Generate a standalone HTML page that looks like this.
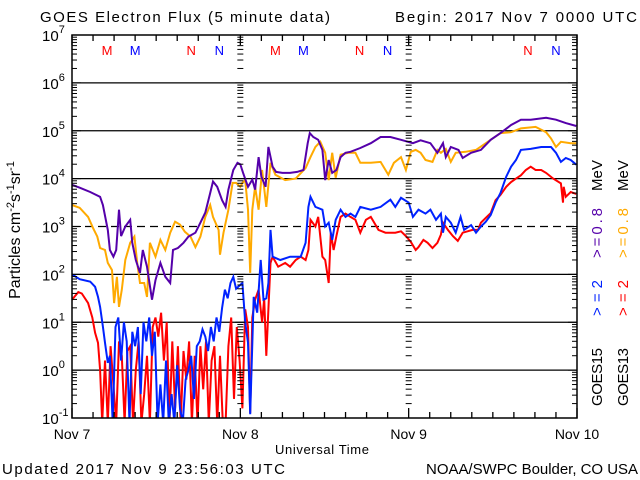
<!DOCTYPE html>
<html><head><meta charset="utf-8"><style>
html,body{margin:0;padding:0;background:#fff;}
svg{display:block;font-family:"Liberation Sans",sans-serif;}
</style></head><body>
<svg id="chart" width="640" height="480" viewBox="0 0 640 480">
<text x="40" y="22" font-size="15" textLength="290">GOES Electron Flux (5 minute data)</text>
<text x="637" y="22" font-size="15" text-anchor="end" textLength="242">Begin: 2017 Nov 7 0000 UTC</text>
<text transform="translate(20,230) rotate(-90)" font-size="16" text-anchor="middle">Particles cm<tspan dy="-6" font-size="11">-2</tspan><tspan dy="6">s</tspan><tspan dy="-6" font-size="11">-1</tspan><tspan dy="6">sr</tspan><tspan dy="-6" font-size="11">-1</tspan></text>
<text x="322" y="454" font-size="13" text-anchor="middle" textLength="94">Universal Time</text>
<text x="2" y="474" font-size="15" textLength="283">Updated 2017 Nov  9 23:56:03 UTC</text>
<text x="638" y="474" font-size="15" text-anchor="end" textLength="212">NOAA/SWPC Boulder, CO USA</text>
<g id="grid"></g>
<g id="series" clip-path="url(#plotclip)"></g>
<g id="axes"></g>
<g id="legend" font-size="15">
<text transform="translate(602,406) rotate(-90)" textLength="58">GOES15</text>
<text transform="translate(602,316) rotate(-90)" fill="#0022ff" textLength="36">&gt;=2</text>
<text transform="translate(602,258) rotate(-90)" fill="#5500aa" textLength="50">&gt;=0.8</text>
<text transform="translate(602,191) rotate(-90)" textLength="31">MeV</text>
<text transform="translate(628,406) rotate(-90)" textLength="58">GOES13</text>
<text transform="translate(628,316) rotate(-90)" fill="#ff0000" textLength="36">&gt;=2</text>
<text transform="translate(628,258) rotate(-90)" fill="#ffaa00" textLength="50">&gt;=0.8</text>
<text transform="translate(628,191) rotate(-90)" textLength="31">MeV</text>
</g>
<defs><clipPath id="plotclip"><rect x="72" y="35" width="505" height="383"/></clipPath></defs>
</svg>
<script>
const dayLabels = ["Nov 7","Nov 8","Nov 9","Nov 10"];
const yTickExponents = [-1,0,1,2,3,4,5,6,7];
const markerLabels = ["M","M","N","N","M","M","N","N","N","N"];
const markerHours = [5,9,17,21,29,33,41,45,65,69];
const markerColors = ["red","blue","red","blue","red","blue","red","blue","red","blue"];

const purpleT = [0,1.1,2.6,4,4.4,5.1,5.4,5.9,6.3,6.7,7,7.6,8.3,8.6,9.1,9.7,10.1,10.7,11.4,11.9,12.6,13.3,14,14.4,15.1,15.9,16.6,17.6,18.3,19,19.7,20.1,20.7,21.4,21.9,22.3,23,23.6,24,24.4,25.1,25.7,26.1,26.6,27,27.6,28,28.6,29.1,30,31.1,32.1,33,33.6,33.9,34.4,35.1,35.7,36.1,36.6,37.1,37.7,38.3,39,39.7,41.1,42.6,44,45.4,46.9,48.6,49.7,51.1,52.1,52.9,53.3,54,55.1,55.7,56.9,58.3,59.7,61.1,62.6,64,65.4,67.6,69,70.4,71.9];
const purpleV = [3.87,3.81,3.72,3.62,3.45,2.93,2.51,2.37,2.51,3.35,2.8,3.0,3.14,2.66,2.3,2.03,2.51,2.16,1.47,1.88,2.24,1.95,1.82,2.51,2.55,2.66,2.79,2.87,3.08,3.29,3.7,3.94,3.83,3.55,3.41,3.77,4.18,4.33,4.3,4.12,3.83,3.98,3.77,4.45,4.04,3.83,4.66,4.25,4.14,4.12,4.12,4.14,4.18,4.74,4.95,4.87,4.81,4.6,3.97,4.39,4.12,4.18,4.45,4.54,4.56,4.64,4.74,4.87,4.87,4.81,4.74,4.8,4.74,4.54,4.74,4.45,4.66,4.6,4.43,4.54,4.6,4.81,4.95,5.12,5.23,5.23,5.27,5.23,5.16,5.1];

const orangeT = [0,1.1,2.3,3,3.6,4,4.7,5.1,5.7,6,6.4,6.7,7.1,7.6,8.3,8.9,9.3,9.7,10.3,10.7,11.1,11.9,12.6,13.3,14,14.7,15.4,16.1,16.9,17.6,18.3,19,19.7,20.1,20.9,21.1,21.6,22.3,22.9,23.4,24,24.3,24.7,25.1,25.4,25.7,26.1,26.6,27.1,27.7,28.3,29,30.4,31.9,33.3,34,34.7,35.4,36.1,36.6,37.1,37.6,38.3,39.4,40.4,41.1,42.6,44,45.1,45.9,46.9,47.6,48.3,49,49.7,50.4,51.4,52.1,52.6,53.3,54,54.7,56.1,57.6,59,61.1,62.6,64,66.1,67.6,68.3,69,69.7,71.1,71.9];
const orangeV = [3.45,3.39,3.2,2.97,2.79,2.55,2.51,2.24,2.09,1.4,1.95,1.32,1.68,2.3,2.66,2.79,2.24,1.82,1.82,1.53,2.66,2.37,2.72,2.51,2.87,3.1,3.04,2.89,2.79,2.57,2.79,3.2,3.45,3.2,2.93,2.41,2.87,3.35,3.91,3.91,3.83,3.91,3.97,3.35,2.03,3.35,3.83,3.35,4.18,3.41,4.33,4.08,3.97,4.0,4.22,4.45,4.66,4.77,4.54,3.97,4.54,4.02,4.5,4.54,4.54,4.33,4.33,4.35,4.08,4.33,4.45,4.18,4.56,4.6,4.54,4.39,4.35,4.6,4.54,4.62,4.35,4.54,4.56,4.6,4.74,4.95,4.97,5.05,5.08,4.97,4.84,4.66,4.77,4.74,4.74];

const blueHeadT = [0,1.1,2.6,3.3,3.7,4,4.4,4.7,5.1];
const blueHeadV = [2.0,1.9,1.85,1.74,1.53,1.32,0.91,0.57,0.15];
const blueNoiseStart = 5.4;
const blueNoiseStep = 0.4;
const blueNoiseV = [0.3,-1.1,0.9,1.1,0.2,1.0, 0.6,-1.1,0.8,0.5,0.9,-0.5, 1.0,0.6,1.1,0.3,0.8, -1.1,-0.3,-1.1,0.2,-1.1, -0.5,-1.1,0.1,-0.8,-1.1,-0.2, 0.0,0.3,-0.6,0.5,0.6,0.85, 0.7,0.4,0.9,0.6,1.1,0.8,1.3, 1.68,1.5,1.82,1.95,1.7];
const blueTailT = [24.3,24.7,25.1,25.4,25.9,26.4,26.9,27.3,27.7,28,28.3,28.6,29.7,31.1,32.6,33.3,33.7,34,34.7,35.7,36.1,36.6,37.1,37.6,38.3,39,39.7,40.4,41.1,42.6,44,45.4,46.1,46.9,48,48.6,49.4,50.4,51.1,51.9,52.6,52.9,53.3,54,54.7,55.4,55.9,56.9,57.6,58.3,59,59.7,60.4,61.1,61.9,62.6,63.3,64,65.4,66.9,68.3,69,69.7,70.4,71.1,71.9];
const blueTailV = [1.82,1.0,0.57,-0.92,1.53,1.2,2.3,1.47,1.5,1.82,2.93,2.37,2.3,2.37,2.37,2.66,3.41,3.62,3.41,3.35,3.0,3.08,2.72,3.14,3.35,3.2,3.27,3.2,3.41,3.35,3.41,3.56,3.41,3.6,3.5,3.2,3.35,3.27,3.35,3.14,3.27,2.87,3.2,3.08,2.87,3.2,2.93,3.03,2.87,3.0,3.1,3.24,3.5,3.7,4.04,4.25,4.39,4.6,4.62,4.66,4.66,4.54,4.35,4.43,4.39,4.29];

const redHeadT = [0,0.9,1.4,2.3,2.9,3.3,3.7,4];
const redHeadV = [1.47,1.63,1.6,1.4,1.1,0.78,0.57,0.0];
const redNoiseStart = 4.3;
const redNoiseStep = 0.4;
const redNoiseV = [-1.1,0.2,-1.1,0.5,-0.3,-1.1,0.6,0.3,-1.1,0.4, 0.5,-1.1,0.0,0.6,-1.1,-0.5,0.3,-1.1, 0.9,1.1,0.7,1.2,0.2,1.0, -1.1,0.6,-0.8,0.5,-1.1,0.4,-0.2,0.6,-1.1, 0.3,-1.1,0.5,-0.4,0.6,-1.1,0.2,0.5,-1.1,0.3, -1.1,-1.1,0.5,1.1,-0.6,0.9,0.2,-0.8];
const redTailT = [24.7,25.1,25.4,25.7,26.1,26.6,27.1,27.4,27.7,28,28.3,28.6,29.4,30.4,31.1,31.9,32.6,33.3,33.7,34,34.7,35.1,35.7,36.1,36.6,36.9,37.3,37.7,38.3,39,39.7,40.4,41.1,41.9,42.6,43.7,44.7,46.1,46.9,47.6,48.3,49,49.4,50.1,50.7,51.4,52.1,52.6,52.9,53.6,54.3,55,55.7,56.4,57.1,57.9,58.3,59,59.7,60.4,61.1,61.9,62.6,63.3,64,64.7,65.4,66.1,66.9,67.6,68.6,69.7,70,70.1,70.4,71.1,71.9];
const redTailV = [1.27,0.9,-0.9,1.1,1.47,1.68,1.0,1.5,0.3,1.27,2.24,2.37,2.16,2.24,2.16,2.3,2.37,2.3,2.51,3.14,3.0,3.2,2.37,2.3,1.82,2.87,2.51,2.8,3.2,3.27,3.2,3.14,2.87,3.14,3.2,2.93,2.87,2.87,2.9,2.8,2.68,2.51,2.57,2.72,2.66,2.55,2.66,2.83,3.08,2.93,2.8,2.7,2.87,2.9,2.93,2.93,3.08,3.18,3.28,3.55,3.66,3.83,3.93,4.0,4.07,4.18,4.25,4.18,4.18,4.12,4.0,3.9,3.5,3.83,3.62,3.72,3.68];

const NS = "http://www.w3.org/2000/svg";
const X0 = 72, X1 = 577, Y0 = 418, Y1 = 35;
function xs(h){ return X0 + h/72*(X1-X0); }
function ys(l){ return Y0 - (l+1)/8*(Y0-Y1); }
function mk(tag, attrs, parent){
  const e = document.createElementNS(NS, tag);
  for (const k in attrs) e.setAttribute(k, attrs[k]);
  parent.appendChild(e); return e;
}
const grid = document.getElementById('grid');
const axes = document.getElementById('axes');
const series = document.getElementById('series');

yTickExponents.forEach(function(ex){
  if (ex === -1 || ex === 7) return;
  const y = ys(ex);
  const ln = mk('line', {x1:X0, x2:X1, y1:y, y2:y, stroke:'#000', 'stroke-width':1.3}, grid);
  if (ex === 3) ln.setAttribute('stroke-dasharray','8,5');
  
  
});
const fr = mk('rect', {x:X0, y:Y1, width:X1-X0, height:Y0-Y1, fill:'none', stroke:'#000', 'stroke-width':1.5}, axes);



yTickExponents.forEach(function(ex){
  const y = ys(ex);
  const t = mk('text', {x:42, y:y+6, 'font-size':15}, axes);
  t.textContent = '10';
  const s = mk('tspan', {dy:-8, 'font-size':11}, t);
  s.textContent = String(ex);
  
  
  if (ex < 7) {
    for (let m = 2; m <= 9; m++) {
      const yy = ys(ex + Math.log10(m));
      [[X0, X0+5],[X1-5, X1],[xs(24)-3, xs(24)+3],[xs(48)-3, xs(48)+3]].forEach(function(p){
        mk('line', {x1:p[0], x2:p[1], y1:yy, y2:yy, stroke:'#000', 'stroke-width':1}, axes);
      });
    }
  }
  [[X0, X0+9],[X1-9, X1],[xs(24)-5, xs(24)+5],[xs(48)-5, xs(48)+5]].forEach(function(p){
    mk('line', {x1:p[0], x2:p[1], y1:y, y2:y, stroke:'#000', 'stroke-width':1}, axes);
  });
});
for (let h = 0; h <= 72; h += 3) {
  const x = xs(h);
  const len = (h % 24 === 0) ? 10 : 6;
  mk('line', {x1:x, x2:x, y1:Y0, y2:Y0-len, stroke:'#000', 'stroke-width':1.3}, axes);
  mk('line', {x1:x, x2:x, y1:Y1, y2:Y1+len, stroke:'#000', 'stroke-width':1.3}, axes);
}
dayLabels.forEach(function(d, i){
  const t = mk('text', {x:xs(i*24), y:439, 'font-size':14, 'text-anchor':'middle'}, axes);
  t.textContent = d;
  
  
});
markerLabels.forEach(function(m, i){
  const t = mk('text', {x:xs(markerHours[i]), y:55, 'font-size':13, 'text-anchor':'middle', fill:markerColors[i]}, axes);
  t.textContent = m;
  
  
});

function build(tA, vA, start, step, nV, tB, vB){
  const T = [], V = [];
  tA.forEach(function(t,i){ T.push(t); V.push(vA[i]); });
  if (nV) nV.forEach(function(v,i){ T.push(start + i*step); V.push(v); });
  if (tB) tB.forEach(function(t,i){ T.push(t); V.push(vB[i]); });
  return [T, V];
}
function linePath(T, V){
  let d = 'M' + xs(T[0]).toFixed(1) + ' ' + ys(V[0]).toFixed(1);
  for (let i = 1; i < T.length; i++) {
    d += ' L' + xs(T[i]).toFixed(1) + ' ' + ys(V[i]).toFixed(1);
  }
  return d;
}
function drawSeries(T, V, color, name){
  const p = mk('path', {d:linePath(T, V), fill:'none', stroke:color, 'stroke-width':2, 'stroke-linejoin':'miter'}, series);
  
  
}
const red = build(redHeadT, redHeadV, redNoiseStart, redNoiseStep, redNoiseV, redTailT, redTailV);
const blue = build(blueHeadT, blueHeadV, blueNoiseStart, blueNoiseStep, blueNoiseV, blueTailT, blueTailV);
drawSeries(orangeT, orangeV, '#ffaa00', 'goes13-ge08-line');
drawSeries(purpleT, purpleV, '#5500aa', 'goes15-ge08-line');
drawSeries(red[0], red[1], '#ff0000', 'goes13-ge2-line');
drawSeries(blue[0], blue[1], '#0022ff', 'goes15-ge2-line');
</script>
</body></html>
